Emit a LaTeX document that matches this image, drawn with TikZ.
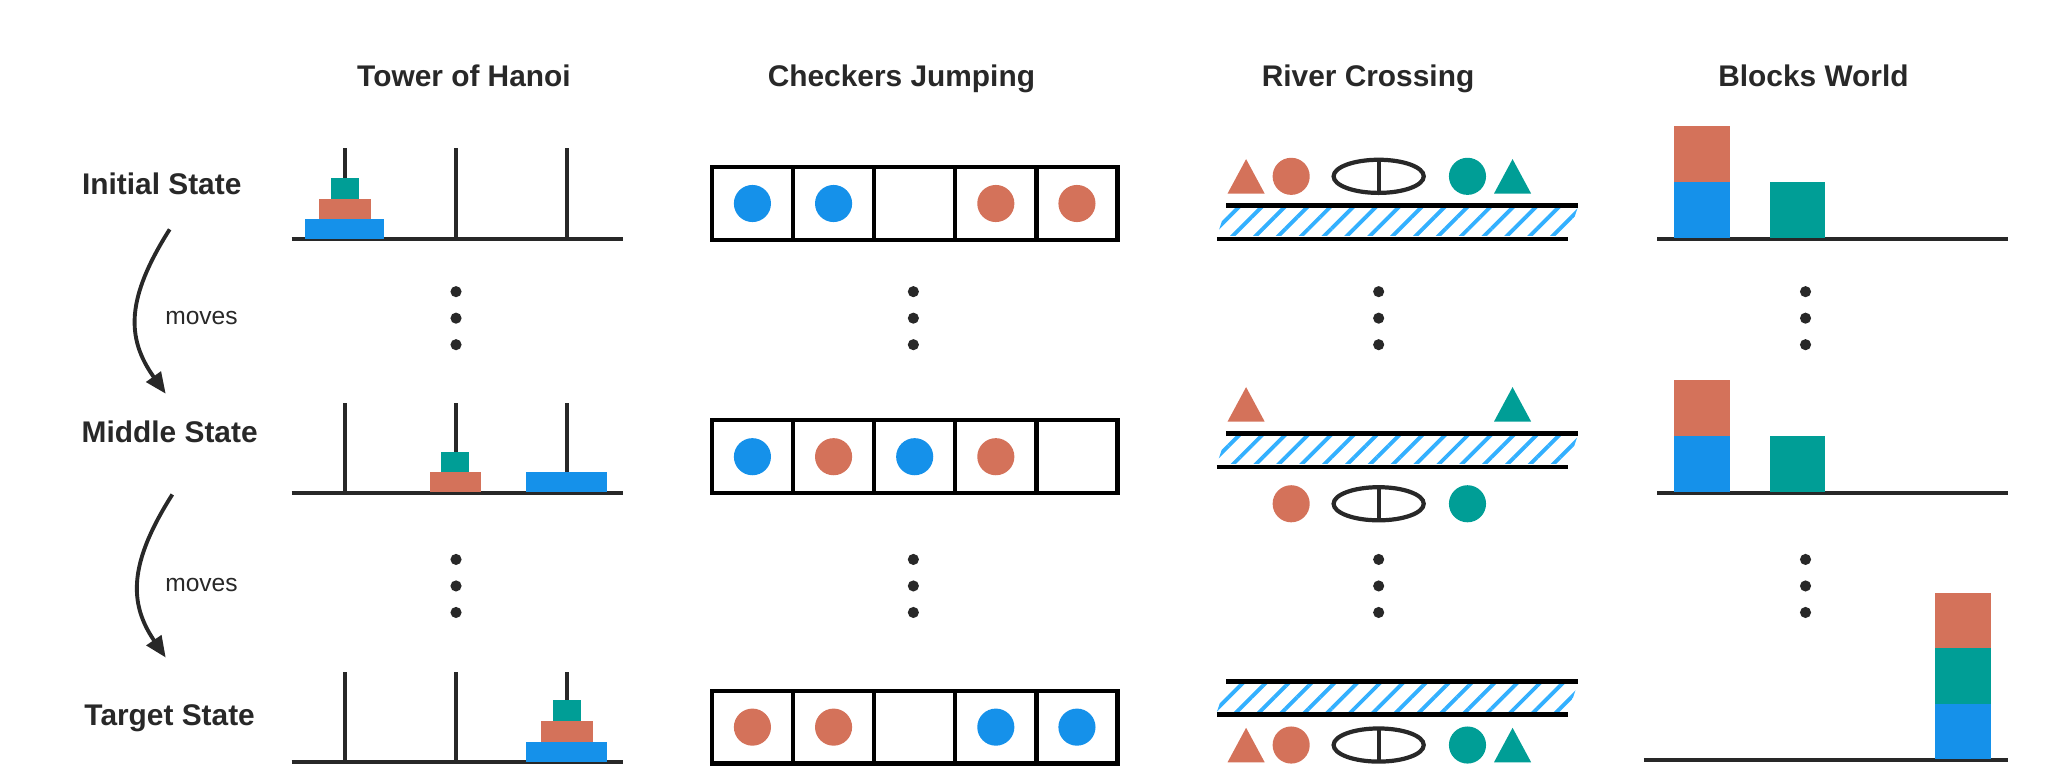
\documentclass[tikz,border=0pt]{standalone}
\usepackage{fontspec}
\setmainfont{Liberation Sans}
\usetikzlibrary{patterns.meta,arrows.meta}
\definecolor{diskblue}{RGB}{21,145,234}
\definecolor{diskorange}{RGB}{212,114,90}
\definecolor{diskteal}{RGB}{0,158,150}
\definecolor{hatchblue}{RGB}{51,176,255}
\definecolor{inkgray}{RGB}{40,40,40}
\tikzset{
  title/.style={font=\bfseries\fontsize{8.5}{10}\selectfont, text=inkgray, anchor=base},
  rowlabel/.style={font=\bfseries\fontsize{8.5}{10}\selectfont, text=inkgray, anchor=base},
  movelabel/.style={font=\fontsize{7}{8}\selectfont, text=inkgray, anchor=base},
  ground/.style={line width=1.2pt, inkgray},
  peg/.style={line width=1.2pt, inkgray},
  cell/.style={line width=1.2pt, black},
  dot/.style={fill=inkgray, draw=none},
  boat/.style={line width=1.2pt, inkgray},
  flow/.style={line width=1.1pt, inkgray, -{Triangle[length=6pt,width=5pt]}}
}
\begin{document}
\begin{tikzpicture}[x=0.013256cm, y=-0.013256cm]
    \useasboundingbox (0,0) rectangle (1560,590.6);

    % Column titles
    \node[title] (thanoi) at (350,65) {Tower of Hanoi};
    \node[title] (tcheck) at (680,65) {Checkers Jumping};
    \node[title] (triver) at (1032,65) {River Crossing};
    \node[title] (tblock) at (1368,65) {Blocks World};

    % Row labels
    \node[rowlabel] (init) at (122,147) {Initial State};
    \node[rowlabel] (mid) at (128,334) {Middle State};
    \node[rowlabel] (target) at (128,547) {Target State};

    % Move arrows
    \coordinate (a1) at (128,173);
    \coordinate (b1) at (125,297);
    \coordinate (a2) at (130,373);
    \coordinate (b2) at (125,496);
    \draw[flow] (a1) .. controls (95,225) and (95,255) .. (b1);
    \draw[flow] (a2) .. controls (97,425) and (97,455) .. (b2);
    \node[movelabel] (mv1) at (152,245) {moves};
    \node[movelabel] (mv2) at (152,446) {moves};

    % Vertical dots
    \foreach \x in {344,689,1040,1362} {
        \foreach \y in {220,240,260,422,442,462} {
            \fill[dot] (\x,\y) circle (4.2);
        }
    }

    % Tower of Hanoi
    \foreach \g in {180,372,575} {
        \draw[ground] (220,\g) -- (470,\g);
        \foreach \p in {260,344,428} {
            \draw[peg] (\p,\g) -- (\p,\g-68);
        }
    }
    \fill[diskblue] (230,165) rectangle (290,180);
    \fill[diskorange] (241,150) rectangle (280,165);
    \fill[diskteal] (250,134) rectangle (271,150);
    \fill[diskorange] (324,356) rectangle (363,371.5);
    \fill[diskteal] (333,341) rectangle (354,356);
    \fill[diskblue] (397,356) rectangle (458,371.5);
    \fill[diskblue] (397,560) rectangle (458,574.5);
    \fill[diskorange] (408,544) rectangle (447,560);
    \fill[diskteal] (417,528) rectangle (438,544);

    % Checkers Jumping
    \foreach \t/\row in {126/{b,b,n,o,o}, 317/{b,o,b,o,n}, 521/{o,o,n,b,b}} {
        \foreach \c [count=\i from 0] in \row {
            \draw[cell] (537+61.2*\i,\t) rectangle ++(61.2,55);
            \if\c b\fill[diskblue] (567.6+61.2*\i,\t+27.5) circle (14);\fi
            \if\c o\fill[diskorange] (567.6+61.2*\i,\t+27.5) circle (14);\fi
        }
    }

    % River Crossing
    \foreach \t in {155,327,514} {
        \fill[pattern={Lines[angle=45,distance=4.6pt,line width=1.1pt]}, pattern color=hatchblue]
            (925,\t+2) -- (1190,\t+2) -- (1183,\t+23) -- (918,\t+23) -- cycle;
        \draw[ground, black] (925,\t) -- (1190,\t);
        \draw[ground, black] (918,\t+25) -- (1183,\t+25);
    }
    \foreach \y/\items in {133/{t,c,e,s,u}, 305/{t,x,x,x,u}, 380/{x,c,e,s,x}, 562/{t,c,e,s,u}} {
        \foreach \k [count=\j] in \items {
            \ifnum\j=1 \def\xx{940}\fi
            \ifnum\j=2 \def\xx{974}\fi
            \ifnum\j=3 \def\xx{1040}\fi
            \ifnum\j=4 \def\xx{1107}\fi
            \ifnum\j=5 \def\xx{1141}\fi
            \if\k t\fill[diskorange] (\xx-14,\y+13) -- (\xx+14,\y+13) -- (\xx,\y-13) -- cycle;\fi
            \if\k u\fill[diskteal] (\xx-14,\y+13) -- (\xx+14,\y+13) -- (\xx,\y-13) -- cycle;\fi
            \if\k c\fill[diskorange] (\xx,\y) circle (14);\fi
            \if\k s\fill[diskteal] (\xx,\y) circle (14);\fi
            \if\k e\draw[boat] (\xx,\y) ellipse (34 and 12.5); \draw[boat] (\xx,\y-12.5) -- (\xx,\y+12.5);\fi
        }
    }

    % Blocks World
    \foreach \g in {180,372} {
        \draw[ground] (1250,\g) -- (1515,\g);
        \fill[diskblue] (1263,\g-43) rectangle (1305,\g-0.7);
        \fill[diskorange] (1263,\g-85) rectangle (1305,\g-43);
        \fill[diskteal] (1335,\g-43) rectangle (1377,\g-0.7);
    }
    \draw[ground] (1240,573) -- (1515,573);
    \fill[diskblue] (1460,531) rectangle (1502,572.3);
    \fill[diskteal] (1460,489) rectangle (1502,531);
    \fill[diskorange] (1460,447) rectangle (1502,489);
\end{tikzpicture}
\end{document}
